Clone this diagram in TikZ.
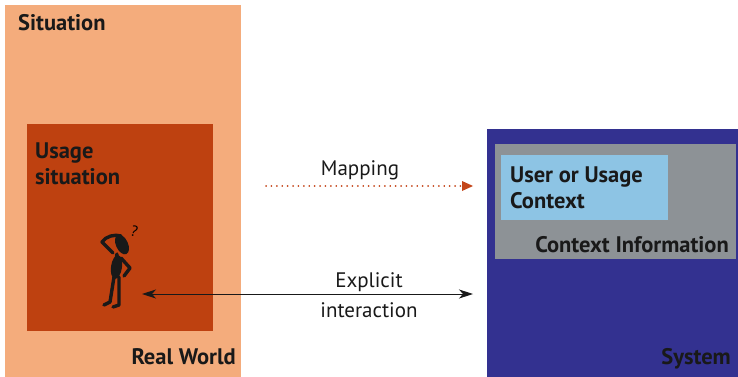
\documentclass[tikz,border=0pt]{standalone}
\usepackage{fontspec}
\setmainfont{PT Sans}
\usepackage{xcolor}
\usetikzlibrary{arrows.meta,positioning}

\definecolor{situfill}{HTML}{F4AC7C}
\definecolor{usagefill}{HTML}{BE4110}
\definecolor{sysfill}{HTML}{333190}
\definecolor{infofill}{HTML}{8D9296}
\definecolor{ctxfill}{HTML}{8DC4E4}
\definecolor{mapcol}{HTML}{C4461A}

\tikzset{
	area/.style={draw=none,inner sep=0pt,anchor=north west},
	tag/.style={font=\fontsize{22.5}{26}\selectfont\bfseries,text=black!90,inner sep=0pt,align=left},
	note/.style={font=\fontsize{21}{30}\selectfont,text=black!90,inner sep=0pt,align=center},
	limb/.style={line width=3.4pt,line cap=round,line join=round}
}

\begin{document}
\begin{tikzpicture}[x=1pt,y=-1pt]
	\useasboundingbox (0,0) rectangle (738,377);

	% boxes on the real world side
	\node[area,fill=situfill,minimum width=236pt,minimum height=372pt] (situation) at (5,5) {};
	\node[area,fill=usagefill,minimum width=186pt,minimum height=207pt] (usage) at (27,124) {};

	% boxes on the system side
	\node[area,fill=sysfill,minimum width=251pt,minimum height=248pt] (system) at (487,129) {};
	\node[area,fill=infofill,minimum width=241pt,minimum height=115pt] (info) at (495,144) {};
	\node[area,fill=ctxfill,minimum width=167pt,minimum height=65pt] (context) at (501,155) {};

	% labels (base of a two-line label is its last line)
	\node[tag,anchor=base west] (lsit) at (18,31) {Situation};
	\node[tag,anchor=base west] (lusage) at (35,184) {Usage\\situation};
	\node[tag,anchor=base east] (lreal) at (236,364) {Real World};
	\node[tag,anchor=base east] (lsys) at (731,364) {System};
	\node[tag,anchor=base east] (linfo) at (729,252) {Context Information};
	\node[tag,anchor=base west] (lctx) at (510,208) {User or Usage\\Context};

	% thinking person
	\begin{scope}[fill=black!90,draw=black!90]
		\fill[rotate around={25:(122,244.5)}] (122,244.5) ellipse (6pt and 10.5pt);
		\fill[rotate around={-8:(116.5,267)}] (116.5,267) ellipse (5.5pt and 12pt);
		\draw[limb] (117,254) -- (116,260);
		\draw[limb] (113,253) -- (102,242) .. controls (106,236) and (115,234) .. (121,236);
		\draw[limb] (121,258) -- (130,268) -- (124,276);
		\draw[limb] (114,277) -- (110,302) -- (104,305);
		\draw[limb] (119,277) -- (119,305) -- (113,307);
		\node[font=\fontsize{15}{15}\selectfont,inner sep=0pt,rotate=-15] (qmark) at (134.5,231) {?};
	\end{scope}

	% connectors
	\coordinate (mapfrom) at (266,186);
	\coordinate (mapto) at (473,186);
	\coordinate (actfrom) at (142,294);
	\coordinate (actto) at (473,294);

	\draw[mapcol,line width=1.8pt,dash pattern=on 0.1pt off 5.3pt,line cap=round,-{Triangle[length=11pt,width=10pt,line width=0pt]}] (mapfrom) -- (mapto);
	\draw[black!90,line width=0.9pt,{Stealth[length=14pt,width=9pt,inset=4pt]}-{Stealth[length=14pt,width=9pt,inset=4pt]}] (actfrom) -- (actto);

	\node[note,anchor=base] (lmap) at (360,175) {Mapping};
	\node[note,anchor=base] (lact) at (369,317) {Explicit\\interaction};
\end{tikzpicture}
\end{document}
